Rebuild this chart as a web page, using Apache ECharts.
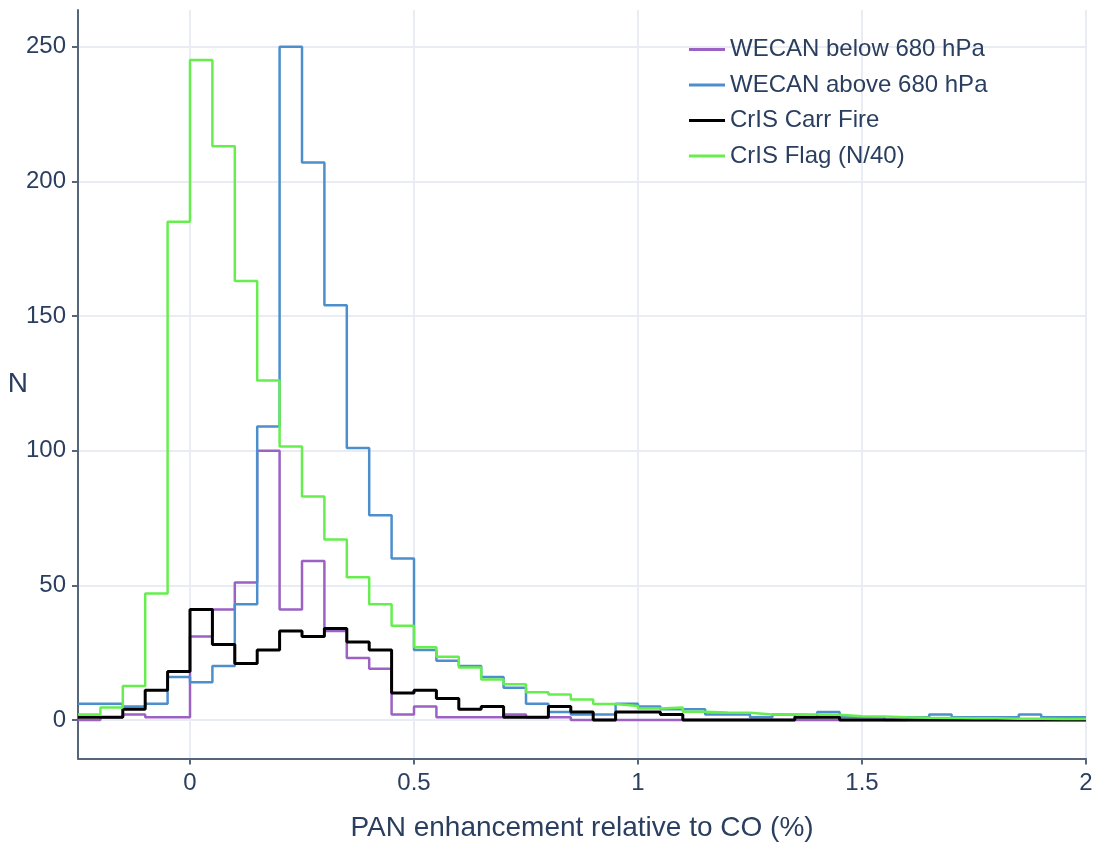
<!DOCTYPE html>
<html>
<head>
<meta charset="utf-8">
<title>PAN enhancement relative to CO</title>
<script src="https://cdn.jsdelivr.net/npm/echarts@6/dist/echarts.min.js"></script>
<style>
  html, body { margin: 0; padding: 0; background: #ffffff; }
  #chart { width: 1093px; height: 842px; }
</style>
</head>
<body>
<div id="chart"></div>
<script>
// Histogram bins: 0.05 wide, starting at -0.25 (45 bins up to 2.0)
const BIN_START = -0.25;
const BIN_WIDTH = 0.05;

const SERIES_NAMES = ['WECAN below 680 hPa', 'WECAN above 680 hPa', 'CrIS Carr Fire', 'CrIS Flag (N/40)'];

// Counts per bin
const wecanBelow = [0, 1, 2, 1, 1, 31, 41, 51, 100, 41, 59, 33, 23, 19, 2, 5, 1, 1, 1, 2,
  1, 1, 0, 0, 0, 0, 0, 0, 0, 0, 0, 0, 0, 0, 0, 0, 0, 0, 0, 0, 0, 0, 0, 0, 0];
const wecanAbove = [6, 6, 5, 6, 16, 14, 20, 43, 109, 250, 207, 154, 101, 76, 60, 26, 22, 20, 16, 12,
  6, 3, 2, 2, 6, 5, 4, 4, 2, 2, 1, 2, 1, 3, 1, 1, 0, 1, 2, 1, 1, 1, 2, 1, 1];
const crisCarr = [1, 1, 4, 11, 18, 41, 28, 21, 26, 33, 31, 34, 29, 26, 10, 11, 8, 4, 5, 1,
  1, 5, 3, 0, 3, 3, 2, 0, 0, 0, 0, 0, 1, 1, 0, 0, 0, 0, 0, 0, 0, 0, 0, 0, 0];
const crisFlag = [2, 4.6, 12.6, 47, 185, 245, 213, 163, 126, 101.5, 83, 67, 53, 43, 35, 27, 23.5, 19.5, 15, 13.3,
  10.3, 9.5, 7.6, 5.9, 5.2, 4.3, 4.6, 3.1, 2.8, 2.7, 2.0, 2.1, 2.0, 1.9, 1.4, 1.3, 1.0, 0.8, 0.7, 0.6,
  0.6, 0.5, 0.5, 0.4, 0.4];

const X_TICKS = [0, 0.5, 1, 1.5, 2];
const Y_TICKS = [0, 50, 100, 150, 200, 250];

const COLORS = ['#9b62c4', '#4d8fcc', '#000000', '#66ee4f'];
const TEXT = '#2a3f5f';
const AXIS = '#56657a';
const GRID = '#e9edf3';
const FONT = '"Liberation Sans", Arial, Helvetica, sans-serif';

// Turn bin counts into step points at the left bin edges, closing at the last edge
function stepPoints(values) {
  const pts = values.map((v, i) => [+(BIN_START + i * BIN_WIDTH).toFixed(4), v]);
  pts.push([+(BIN_START + values.length * BIN_WIDTH).toFixed(4), values[values.length - 1]]);
  return pts;
}

const seriesValues = [wecanBelow, wecanAbove, crisCarr, crisFlag];

const chart = echarts.init(document.getElementById('chart'), null, { renderer: 'canvas' });

chart.setOption({
  animation: false,
  backgroundColor: '#ffffff',
  textStyle: { fontFamily: FONT, color: TEXT },
  grid: { left: 78, right: 7, top: 10, bottom: 83.5, containLabel: false, outerBoundsMode: 'none' },
  legend: {
    orient: 'vertical',
    left: 689,
    top: 37.5,
    padding: 0,
    itemWidth: 36,
    itemHeight: 3,
    itemGap: 11.5,
    icon: 'rect',
    data: SERIES_NAMES,
    textStyle: { fontSize: 24, color: TEXT, fontFamily: FONT, lineHeight: 24 }
  },
  xAxis: {
    type: 'value',
    min: BIN_START,
    max: 2,
    name: 'PAN enhancement relative to CO (%)',
    nameLocation: 'middle',
    nameGap: 56,
    nameMoveOverlap: false,
    nameTextStyle: { fontSize: 28, color: TEXT, fontFamily: FONT },
    axisLine: { show: true, onZero: false, lineStyle: { color: AXIS, width: 2 } },
    axisTick: { show: true, length: 6, customValues: X_TICKS, lineStyle: { color: AXIS, width: 2 } },
    axisLabel: { customValues: X_TICKS, fontSize: 24, color: TEXT, margin: 13, fontFamily: FONT },
    splitLine: { show: true, lineStyle: { color: GRID, width: 2 } }
  },
  yAxis: {
    type: 'value',
    min: -14.3,
    max: 263.6,
    name: 'N',
    nameLocation: 'middle',
    nameRotate: 0,
    nameGap: 50,
    nameMoveOverlap: false,
    nameTextStyle: { fontSize: 28, color: TEXT, fontFamily: FONT },
    axisLine: { show: true, onZero: false, lineStyle: { color: AXIS, width: 2 } },
    axisTick: { show: true, length: 6, customValues: Y_TICKS, lineStyle: { color: AXIS, width: 2 } },
    axisLabel: { customValues: Y_TICKS, fontSize: 24, color: TEXT, margin: 12, fontFamily: FONT },
    splitLine: { show: true, lineStyle: { color: GRID, width: 2 } }
  },
  series: SERIES_NAMES.map((name, i) => ({
    name: name,
    type: 'line',
    step: 'end',
    showSymbol: false,
    symbol: 'none',
    clip: true,
    color: COLORS[i],
    lineStyle: { color: COLORS[i], width: i === 2 ? 3 : 2.5 },
    data: stepPoints(seriesValues[i]),
    z: 2 + i
  }))
});
</script>
</body>
</html>
